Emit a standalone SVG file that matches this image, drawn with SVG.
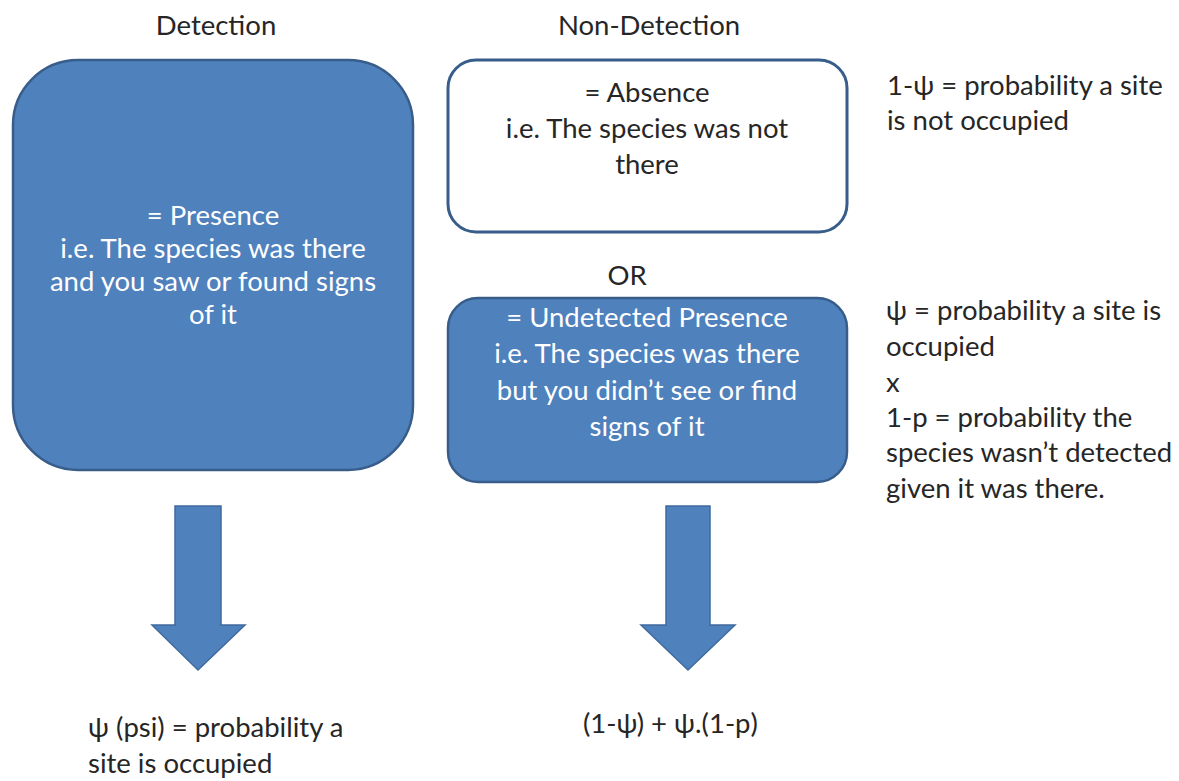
<svg xmlns="http://www.w3.org/2000/svg" width="1179" height="781" viewBox="0 0 1179 781">
<style>
  text { font-family: Lato, "Liberation Sans", "DejaVu Sans", sans-serif; font-size: 27.5px; }
  .dark { fill: #262626; }
  .light { fill: #ffffff; }
  .mid { text-anchor: middle; }
  .blue { fill: #4F81BD; stroke: #385D8A; stroke-width: 2.5; }
  .outline { fill: #ffffff; stroke: #385D8A; stroke-width: 3; }
  .arrow { fill: #4F81BD; stroke: #3F6A9E; stroke-width: 1.5; }
</style>
<rect width="1179" height="781" fill="#ffffff"/>

<g id="heading-detection">
  <text x="216" y="35" class="dark mid">Detection</text>
</g>
<g id="heading-non-detection">
  <text x="649" y="35" class="dark mid">Non-Detection</text>
</g>

<g id="node-presence">
  <rect x="13" y="60" width="400" height="410" rx="65" ry="65" class="blue"/>
  <text x="213" y="225" class="light mid">= Presence</text>
  <text x="213" y="258" class="light mid">i.e. The species was there</text>
  <text x="213" y="291" class="light mid">and you saw or found signs</text>
  <text x="213" y="324" class="light mid">of it</text>
</g>

<g id="node-absence">
  <rect x="448" y="60" width="399" height="172" rx="28" ry="28" class="outline"/>
  <text x="647" y="102" class="dark mid">= Absence</text>
  <text x="647" y="138" class="dark mid">i.e. The species was not</text>
  <text x="647" y="174" class="dark mid">there</text>
</g>

<g id="label-or">
  <text x="627" y="285" class="dark mid">OR</text>
</g>

<g id="node-undetected">
  <rect x="448" y="298" width="399" height="184" rx="30" ry="30" class="blue"/>
  <text x="647" y="327" class="light mid">= Undetected Presence</text>
  <text x="647" y="363" class="light mid">i.e. The species was there</text>
  <text x="647" y="400" class="light mid">but you didn’t see or find</text>
  <text x="647" y="436" class="light mid">signs of it</text>
</g>

<g id="note-absence">
  <text x="887" y="95" class="dark">1-ψ = probability a site</text>
  <text x="887" y="130" class="dark">is not occupied</text>
</g>

<g id="note-undetected">
  <text x="886" y="320" class="dark">ψ = probability a site is</text>
  <text x="886" y="356" class="dark">occupied</text>
  <text x="886" y="392" class="dark">x</text>
  <text x="886" y="427" class="dark">1-p = probability the</text>
  <text x="886" y="462" class="dark">species wasn’t detected</text>
  <text x="886" y="498" class="dark">given it was there.</text>
</g>

<g id="connectors">
  <path d="M175,506 H221 V625 H245 L198,670 L152,625 H175 Z" class="arrow"/>
  <path d="M666,506 H710 V625 H735 L688,670 L641,625 H666 Z" class="arrow"/>
</g>

<g id="result-detection">
  <text x="88" y="737" class="dark">ψ (psi) = probability a</text>
  <text x="88" y="773" class="dark">site is occupied</text>
</g>

<g id="result-non-detection">
  <text x="583" y="733" class="dark">(1-ψ) + ψ.(1-p)</text>
</g>
</svg>
